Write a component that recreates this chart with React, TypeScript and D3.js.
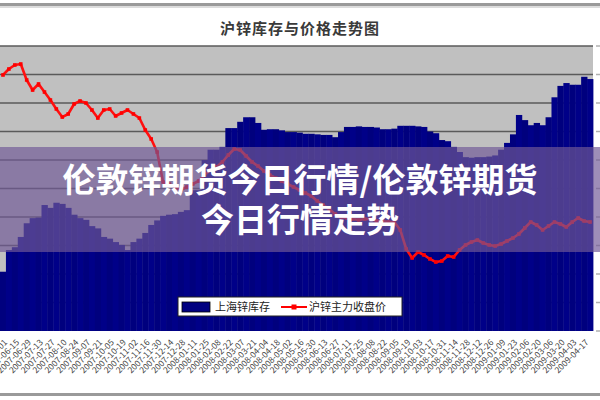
import React from "react";
import * as d3 from "d3";

// ---- data ----
const categories: number[] = Array.from({ length: 100 }, (_, i) => i);

// inventory (thousand tons) per week
const inventory: number[] = [
  10.4, 14.2, 14.7, 16.5, 18.9, 19.8, 19.9, 22.1, 21.6, 22.5,
  22.3, 21.6, 20.4, 19.8, 19.5, 18.4, 18.0, 16.5, 16.2, 15.6,
  15.1, 14.2, 15.6, 16.2, 17.2, 18.6, 19.4, 20.2, 20.4, 20.5,
  20.9, 21.2, 24.7, 24.7, 30.0, 31.8, 31.8, 32.3, 35.6, 35.6,
  36.7, 37.5, 37.5, 36.5, 35.3, 35.4, 35.4, 35.2, 34.9, 34.9,
  34.8, 34.6, 34.6, 34.5, 34.4, 34.4, 34.0, 34.9, 35.8, 35.8,
  35.9, 35.8, 35.8, 35.7, 35.4, 35.4, 35.5, 36.0, 36.0, 36.0,
  35.9, 35.8, 35.0, 34.7, 33.5, 33.3, 32.3, 31.4, 30.5, 30.4,
  30.5, 30.5, 30.6, 30.8, 31.8, 33.0, 34.5, 37.9, 37.0, 36.1,
  36.5, 36.1, 37.5, 41.0, 43.0, 43.5, 43.2, 43.2, 44.6, 44.2,
];

// main contract closing price (yuan/ton)
const price: number[] = [
  35930, 36770, 37330, 37470, 35230, 33820, 34670, 33540, 32420, 31160,
  30030, 30460, 31860, 32280, 32000, 31020, 29890, 31020, 31160, 30180,
  30600, 31020, 30460, 29890, 28210, 26950, 25120, 20910, 20630, 20210,
  19790, 20210, 20630, 21050, 21890, 22600, 23020, 23720, 24700, 25540,
  25400, 24560, 23720, 23160, 22460, 21890, 21470, 21050, 20630, 20210,
  19790, 19370, 18950, 18250, 17680, 17120, 16420, 16000, 15860, 15720,
  15580, 15720, 15720, 15440, 15440, 15300, 15300, 14180, 11510, 10250,
  11090, 10670, 10110, 9680, 9820, 10530, 10390, 11370, 12070, 12490,
  12770, 12350, 12070, 11930, 12210, 12630, 13050, 13610, 14460, 15300,
  14880, 14180, 14740, 15300, 15020, 14600, 15300, 15860, 15440, 15300,
];

const tickLabels: string[] = [
  "2007-06-01", "2007-06-15", "2007-06-29", "2007-07-13", "2007-07-27",
  "2007-08-10", "2007-08-24", "2007-09-07", "2007-09-21", "2007-10-05",
  "2007-10-19", "2007-11-02", "2007-11-16", "2007-11-30", "2007-12-14",
  "2007-12-28", "2008-01-11", "2008-01-25", "2008-02-08", "2008-02-22",
  "2008-03-07", "2008-03-21", "2008-04-04", "2008-04-18", "2008-05-02",
  "2008-05-16", "2008-05-30", "2008-06-13", "2008-06-27", "2008-07-11",
  "2008-07-25", "2008-08-08", "2008-08-22", "2008-09-05", "2008-09-19",
  "2008-10-03", "2008-10-17", "2008-10-31", "2008-11-14", "2008-11-28",
  "2008-12-12", "2008-12-26", "2009-01-09", "2009-01-23", "2009-02-06",
  "2009-02-20", "2009-03-06", "2009-03-20", "2009-04-03", "2009-04-17",
];

const rightTicks: number[] = [0, 5, 10, 15, 20, 25, 30, 35, 40, 45, 50];

const chartTitle = "沪锌库存与价格走势图";
const seriesNames = ["上海锌库存", "沪锌主力收盘价"];
const bannerLines = ["伦敦锌期货今日行情/伦敦锌期货", "今日行情走势"];

// ---- layout ----
const W = 600;
const H = 400;
const PL = 0;
const PR = 593;
const PT = 46;
const PB = 331;

export default function App() {
  const x = d3.scaleBand<number>().domain(categories).range([PL, PR]).padding(0);
  const bw = x.bandwidth();
  const yInv = d3.scaleLinear().domain([0, 50]).range([PB, PT]);
  const yPrice = d3.scaleLinear().domain([0, 40000]).range([PB, PT]);
  const grid = yInv.ticks(10);

  const line = d3
    .line<number>()
    .x((_, i) => (x(categories[i]) as number) + bw / 2)
    .y((d) => yPrice(d));

  return (
    <svg
      width={W}
      height={H}
      style={{ position: "absolute", left: 0, top: 0, background: "#fff" }}
      fontFamily="'Noto Sans CJK SC', 'Noto Sans', sans-serif"
    >
      <rect x={0} y={0} width={W} height={H} fill="#fff" />
      {/* top border */}
      <rect x={0} y={3} width={W} height={3} fill="#9a9a9a" />
      <rect x={0} y={6} width={W} height={2} fill="#dcdcdc" />

      {/* title */}
      <text x={300} y={34} textAnchor="middle" fontSize={15} fontWeight={700} fill="#3a3a3a" letterSpacing={1}>
        {chartTitle}
      </text>

      {/* plot area */}
      <rect x={PL} y={PT} width={PR - PL} height={PB - PT} fill="#c0c0c0" />
      {grid.filter((t) => t > 0).map((t) => (
        <line key={t} x1={PL} x2={PR} y1={yInv(t)} y2={yInv(t)} stroke="#5a5a5a" strokeWidth={1.5} />
      ))}

      {/* bars */}
      {inventory.map((v, i) => (
        <rect
          key={i}
          x={x(categories[i]) as number}
          y={yInv(v)}
          width={bw + 0.4}
          height={PB - yInv(v)}
          fill={i % 2 === 0 ? "#00007e" : "#000088"}
        />
      ))}

      {/* price line */}
      <path d={line(price) || ""} fill="none" stroke="#ff1010" strokeWidth={2.6} strokeLinejoin="round" />
      {price.map((p, i) => (
        <rect
          key={i}
          x={(x(categories[i]) as number) + bw / 2 - 1.8}
          y={yPrice(p) - 1.8}
          width={3.6}
          height={3.6}
          fill="#ff0000"
        />
      ))}

      {/* right axis tick marks (labels lie outside the frame) */}
      {rightTicks.map((t) => (
        <line key={t} x1={596} x2={600} y1={yInv(t)} y2={yInv(t)} stroke="#b0b0b0" strokeWidth={1.5} />
      ))}

      {/* legend */}
      <rect x={178} y={297} width={224} height={19} fill="#fff" stroke="#222" strokeWidth={1} />
      <rect x={182} y={302} width={28} height={10} fill="#000080" stroke="#000" strokeWidth={0.8} />
      <text x={215} y={311} fontSize={11} fill="#222">{seriesNames[0]}</text>
      <line x1={281} x2={307} y1={307} y2={307} stroke="#ff0000" strokeWidth={2} />
      <rect x={291.5} y={304.5} width={5} height={5} fill="#ff0000" />
      <text x={309} y={311} fontSize={11} fill="#222">{seriesNames[1]}</text>

      {/* x axis labels */}
      {tickLabels.map((t, k) => {
        const cx = (x(categories[k * 2]) as number) + bw + 2;
        return (
          <text
            key={t}
            transform={`translate(${cx},${343}) rotate(-45)`}
            textAnchor="end"
            fontSize={8.5}
            fill="#444"
          >
            {t}
          </text>
        );
      })}
      <rect x={0} y={388} width={W} height={12} fill="#fff" />

      {/* bottom border */}
      <rect x={0} y={393} width={W} height={3} fill="#9a9a9a" />

      {/* banner overlay */}
      <rect x={0} y={147} width={W} height={105} fill="rgb(112,88,150)" opacity={0.68} />
      <text x={300} y={192} textAnchor="middle" fontSize={33} fontWeight={700} fill="#fff">
        {bannerLines[0]}
      </text>
      <text x={300} y={232} textAnchor="middle" fontSize={33} fontWeight={700} fill="#fff">
        {bannerLines[1]}
      </text>
    </svg>
  );
}
